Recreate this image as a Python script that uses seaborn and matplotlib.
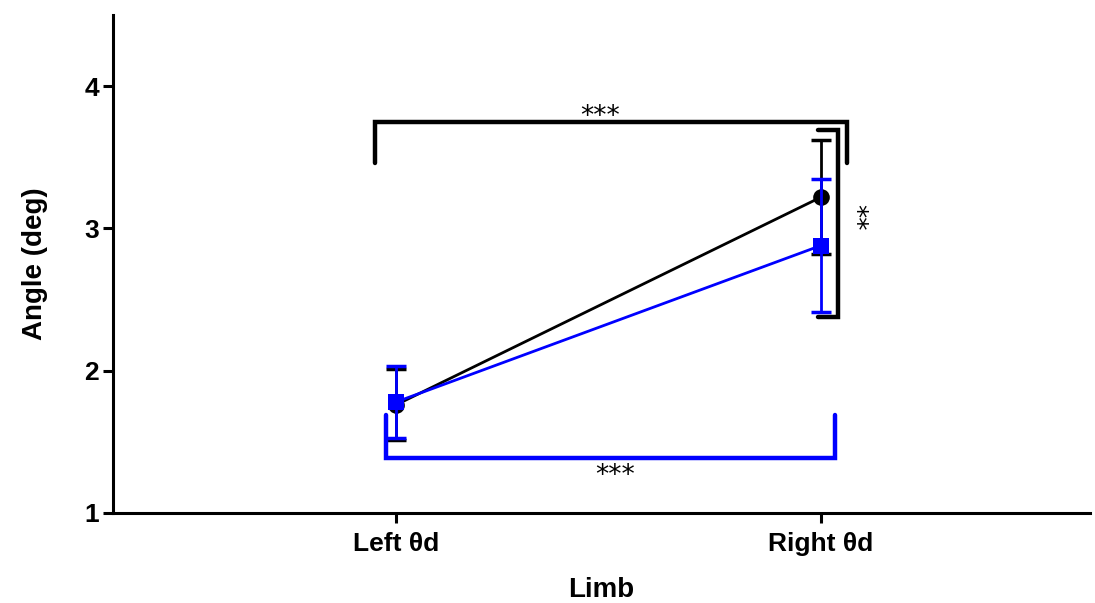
import matplotlib
matplotlib.use("Agg")
import matplotlib.pyplot as plt
import seaborn as sns
import pandas as pd
import numpy as np

categories = ["Left θd", "Right θd"]
black_mean = [1.76, 3.22]
black_err = [0.25, 0.40]
blue_mean = [1.78, 2.88]
blue_err = [0.25, 0.47]
yticks = [1, 2, 3, 4]

sns.set_theme(style="ticks")
plt.rcParams['font.family'] = ['Liberation Sans', 'DejaVu Sans']
plt.rcParams.update({"text.color": "black", "axes.labelcolor": "black",
                     "xtick.color": "black", "ytick.color": "black"})

df = pd.DataFrame({
    "Limb": categories * 2,
    "Angle": black_mean + blue_mean,
    "group": ["black"] * 2 + ["blue"] * 2,
})

fig = plt.figure(figsize=(10.95, 6.03), dpi=100)
ax = fig.add_axes([0.1032, 0.1493, 0.8922, 0.8257])

x = np.arange(len(categories))
ax.errorbar(x, black_mean, yerr=black_err, fmt="none", ecolor="black",
            elinewidth=2.0, capsize=7, capthick=2.5, zorder=2)
sns.lineplot(data=df[df.group == "black"], x="Limb", y="Angle", color="black",
             marker="o", markersize=12, linewidth=2.0, markeredgewidth=0,
             ax=ax, zorder=3, sort=False)
ax.errorbar(x, blue_mean, yerr=blue_err, fmt="none", ecolor="#0000ff",
            elinewidth=2.0, capsize=7, capthick=2.5, zorder=4)
sns.lineplot(data=df[df.group == "blue"], x="Limb", y="Angle", color="#0000ff",
             marker="s", markersize=11, linewidth=2.0, markeredgewidth=0,
             ax=ax, zorder=5, sort=False)

# significance brackets
lw = 3.2
ax.plot([-0.05, -0.05, 1.061, 1.061], [3.46, 3.745, 3.745, 3.46],
        color="black", lw=lw, solid_joinstyle="miter", clip_on=False)
ax.text(0.48, 3.785, "***", ha="center", va="center", fontsize=19,
        family="DejaVu Sans", color="black")
ax.plot([0.993, 1.04, 1.04, 0.993], [3.69, 3.69, 2.38, 2.38],
        color="black", lw=lw, solid_joinstyle="miter", clip_on=False)
ax.text(1.078, 3.08, "**", ha="center", va="center", fontsize=19,
        family="DejaVu Sans", rotation=-90, color="black")
ax.plot([-0.024, -0.024, 1.033, 1.033], [1.69, 1.385, 1.385, 1.69],
        color="#0000ff", lw=lw, solid_joinstyle="miter", clip_on=False)
ax.text(0.515, 1.26, "***", ha="center", va="center", fontsize=19,
        family="DejaVu Sans", color="black")

ax.set_xlim(-0.666, 1.633)
ax.set_ylim(1, 4.5)
ax.set_yticks(yticks)
ax.set_yticklabels([str(t) for t in yticks])
ax.set_xticks(x)
ax.set_xticklabels(categories)

for s in ["top", "right"]:
    ax.spines[s].set_visible(False)
for s in ["left", "bottom"]:
    ax.spines[s].set_linewidth(2.2)
    ax.spines[s].set_color("black")
ax.tick_params(axis="both", width=2.2, length=7, color="black", labelsize=19)
ax.tick_params(axis="x", pad=7)
ax.tick_params(axis="y", pad=3)
for lab in ax.get_xticklabels() + ax.get_yticklabels():
    lab.set_fontweight("bold")

ax.set_xlabel("Limb", fontsize=20, fontweight="bold", labelpad=15)
ax.set_ylabel("Angle (deg)", fontsize=20, fontweight="bold", labelpad=26)
if ax.get_legend():
    ax.get_legend().remove()

fig.savefig("out.png", dpi=100)
